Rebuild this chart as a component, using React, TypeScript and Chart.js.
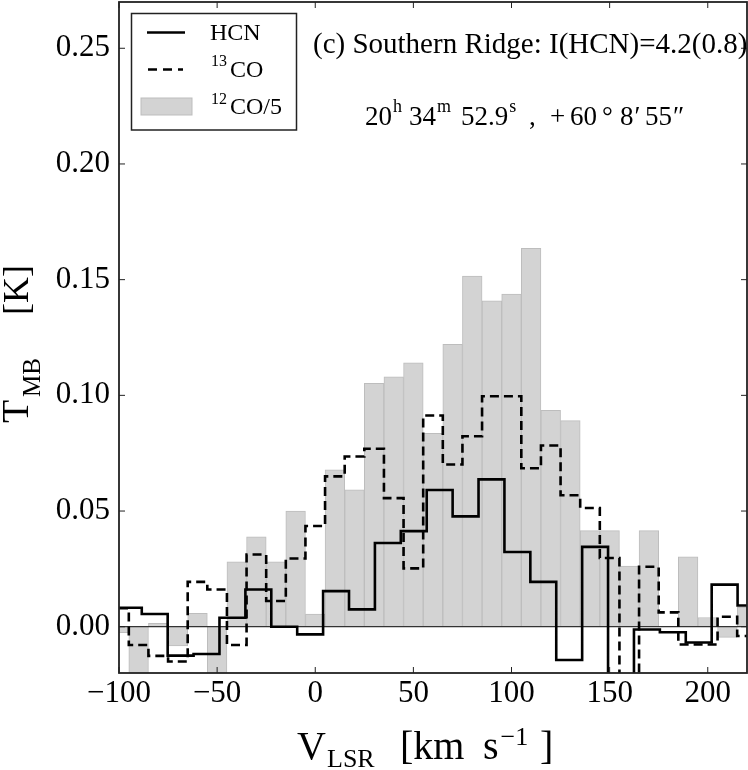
import React, { useEffect, useRef } from 'react';
import { Chart, registerables } from 'chart.js';

Chart.register(...registerables);

const SERIF = '"Liberation Serif", "Times New Roman", serif';

// 12CO/5 and 13CO share the 10 km/s channel grid
const coVel = [
  -100, -90, -80, -70, -60, -50, -40, -30, -20, -10, 0, 10, 20, 30, 40, 50, 60,
  70, 80, 90, 100, 110, 120, 130, 140, 150, 160, 170, 180, 190, 200, 210, 220,
];
const co12Temp = [
  -0.0026, -0.03, 0.0015, -0.0083, 0.0058, -0.025, 0.028, 0.0388, 0.028, 0.05,
  0.0055, 0.0678, 0.0592, 0.1052, 0.108, 0.114, 0.0836, 0.122, 0.1515, 0.1408,
  0.1438, 0.1635, 0.0935, 0.0891, 0.0415, 0.0415, 0.0262, 0.0415, 0.0, 0.0302,
  0.004, -0.0046, 0.0084,
];
const co13Temp = [
  0.008, -0.0079, -0.0126, -0.015, 0.0194, 0.0161, -0.0079, 0.0312, 0.0111,
  0.0295, 0.0435, 0.065, 0.0736, 0.0769, 0.0556, 0.0252, 0.0913, 0.0701, 0.0823,
  0.0996, 0.0996, 0.0685, 0.0783, 0.0568, 0.0513, 0.0297, -0.03, 0.0259, 0.0062,
  -0.0077, -0.0077, 0.0043, -0.004,
];

// HCN channels (~13.2 km/s)
const hcnVel = [
  -108.2, -95.0, -81.8, -68.6, -55.4, -42.2, -29.0, -15.8, -2.6, 10.6, 23.8,
  37.0, 50.2, 63.4, 76.6, 89.8, 103.0, 116.2, 129.4, 142.6, 155.8, 169.0, 182.2,
  195.4, 208.6, 221.8,
];
const hcnTemp = [
  0.0082, 0.0082, 0.0055, -0.0125, -0.0118, 0.0039, 0.0161, 0.0, -0.0033, 0.0154,
  0.0075, 0.0362, 0.0413, 0.0591, 0.0477, 0.0637, 0.0323, 0.0194, -0.0144,
  0.0345, -0.03, -0.0012, -0.0024, -0.0068, 0.0182, 0.0092,
];

const xTicks = [-100, -50, 0, 50, 100, 150, 200];
const yTicks = [0, 0.05, 0.1, 0.15, 0.2, 0.25];

// x: absolute start, or omitted to follow the previous piece (+ gap)
type Piece = { t: string; x?: number; gap?: number; size: number; dy?: number };

function drawPieces(ctx: CanvasRenderingContext2D, pieces: Piece[], baseY: number) {
  let cursor = 0;
  pieces.forEach((p) => {
    ctx.font = `${p.size}px ${SERIF}`;
    const x = p.x !== undefined ? p.x : cursor + (p.gap || 0);
    ctx.fillText(p.t, x, baseY + (p.dy || 0));
    cursor = x + ctx.measureText(p.t).width;
  });
}

const decorations = {
  id: 'decorations',
  afterDatasetDraw(chart: any, args: any) {
    // zero line sits above the bars but under the spectra
    if (args.index !== 2) return;
    const { ctx, chartArea, scales } = chart;
    const y0 = scales.y.getPixelForValue(0);
    ctx.save();
    ctx.strokeStyle = '#333';
    ctx.lineWidth = 1.3;
    ctx.beginPath();
    ctx.moveTo(chartArea.left, y0);
    ctx.lineTo(chartArea.right, y0);
    ctx.stroke();
    ctx.restore();
  },
  afterDraw(chart: any) {
    const { ctx, chartArea: a, scales } = chart;
    ctx.save();

    // inward ticks on all four sides
    ctx.strokeStyle = '#222';
    ctx.lineWidth = 1;
    const tl = 6;
    ctx.beginPath();
    xTicks.forEach((v) => {
      const px = scales.x.getPixelForValue(v);
      ctx.moveTo(px, a.bottom);
      ctx.lineTo(px, a.bottom - tl);
      ctx.moveTo(px, a.top);
      ctx.lineTo(px, a.top + tl);
    });
    yTicks.forEach((v) => {
      const py = scales.y.getPixelForValue(v);
      ctx.moveTo(a.left, py);
      ctx.lineTo(a.left + tl, py);
      ctx.moveTo(a.right, py);
      ctx.lineTo(a.right - tl, py);
    });
    ctx.stroke();

    // legend
    ctx.fillStyle = '#fff';
    ctx.fillRect(131.5, 13.5, 165, 116.5);
    ctx.strokeStyle = '#222';
    ctx.lineWidth = 1.5;
    ctx.strokeRect(131.5, 13.5, 165, 116.5);

    ctx.strokeStyle = '#000';
    ctx.lineWidth = 2.6;
    ctx.beginPath();
    ctx.moveTo(147, 32.5);
    ctx.lineTo(185, 32.5);
    ctx.stroke();
    ctx.setLineDash([9, 6]);
    ctx.beginPath();
    ctx.moveTo(148, 69.5);
    ctx.lineTo(183, 69.5);
    ctx.stroke();
    ctx.setLineDash([]);
    ctx.fillStyle = '#d3d3d3';
    ctx.fillRect(141, 98, 51, 17);
    ctx.strokeStyle = '#bdbdbd';
    ctx.lineWidth = 1;
    ctx.strokeRect(141, 98, 51, 17);

    ctx.fillStyle = '#000';
    ctx.textAlign = 'left';
    ctx.textBaseline = 'alphabetic';
    drawPieces(ctx, [{ t: 'HCN', x: 210, size: 24 }], 40);
    drawPieces(ctx, [{ t: '13', x: 211, size: 16, dy: -11 }, { t: 'CO', x: 230, size: 24 }], 77);
    drawPieces(ctx, [{ t: '12', x: 211, size: 16, dy: -10 }, { t: 'CO/5', x: 230, size: 24 }], 114);

    // annotations
    drawPieces(ctx, [{ t: '(c) Southern Ridge: I(HCN)=4.2(0.8)', x: 313, size: 29 }], 53);
    drawPieces(
      ctx,
      [
        { t: '20', x: 365, size: 27 },
        { t: 'h', gap: 1, size: 18, dy: -13 },
        { t: '34', x: 409, size: 27 },
        { t: 'm', gap: 1, size: 18, dy: -13 },
        { t: '52.9', x: 461, size: 27 },
        { t: 's', gap: 1, size: 18, dy: -13 },
        { t: ',', x: 529, size: 27 },
        { t: '+', x: 550, size: 27 },
        { t: '60', x: 570, size: 27 },
        { t: '\u00b0', x: 602, size: 27 },
        { t: '8', x: 620, size: 27 },
        { t: '\u2032', gap: 1, size: 27 },
        { t: '55', x: 645, size: 27 },
        { t: '\u2033', gap: 1, size: 27 },
      ],
      125,
    );

    // x axis title
    drawPieces(
      ctx,
      [
        { t: 'V', x: 297, size: 40 },
        { t: 'LSR', x: 327, size: 26, dy: 8 },
        { t: '[km', x: 400, size: 40 },
        { t: 's', x: 483, size: 40 },
        { t: '\u22121', gap: 2, size: 26, dy: -14 },
        { t: ']', x: 540, size: 40 },
      ],
      759,
    );

    // y axis title
    ctx.save();
    ctx.translate(28, 0);
    ctx.rotate(-Math.PI / 2);
    drawPieces(
      ctx,
      [
        { t: 'T', x: -423, size: 38 },
        { t: 'MB', x: -397, size: 25, dy: 12 },
        { t: '[K]', x: -315, size: 36 },
      ],
      0,
    );
    ctx.restore();

    // frame (drawn last so it trims the annotation at the right edge)
    ctx.strokeStyle = '#222';
    ctx.lineWidth = 1.8;
    ctx.strokeRect(a.left, a.top, a.right - a.left, a.bottom - a.top);

    ctx.restore();
  },
};

const App: React.FC = () => {
  const canvasRef = useRef<HTMLCanvasElement>(null);

  useEffect(() => {
    const ctx = canvasRef.current?.getContext('2d');
    if (!ctx) return;

    const tickFont = { family: SERIF, size: 31 };

    const chart = new Chart(ctx, {
      type: 'bar',
      data: {
        datasets: [
          {
            type: 'line',
            label: 'HCN',
            data: hcnVel.map((v, i) => ({ x: v, y: hcnTemp[i] })),
            borderColor: '#000',
            borderWidth: 2.6,
            stepped: 'middle',
            pointRadius: 0,
            fill: false,
            clip: 0,
          },
          {
            type: 'line',
            label: '13CO',
            data: coVel.map((v, i) => ({ x: v, y: co13Temp[i] })),
            borderColor: '#000',
            borderWidth: 2.6,
            borderDash: [9, 5],
            stepped: 'middle',
            pointRadius: 0,
            fill: false,
            clip: 0,
          },
          {
            type: 'bar',
            label: '12CO/5',
            data: coVel.map((v, i) => ({ x: v, y: co12Temp[i] })),
            backgroundColor: '#d3d3d3',
            borderColor: '#bdbdbd',
            borderWidth: 1,
            barPercentage: 1,
            categoryPercentage: 1,
          },
        ],
      } as any,
      options: {
        animation: false,
        responsive: true,
        maintainAspectRatio: false,
        layout: { padding: { left: 0, right: 1, top: 2, bottom: 0 } },
        plugins: {
          legend: { display: false },
          tooltip: { enabled: false },
        },
        scales: {
          x: {
            type: 'linear',
            min: -100,
            max: 220,
            offset: false,
            grid: { display: false, drawTicks: false },
            border: { display: false },
            afterBuildTicks: (s: any) => {
              s.ticks = xTicks.map((v) => ({ value: v }));
            },
            afterFit: (s: any) => {
              s.height = 97;
              s.paddingLeft = 0;
              s.paddingRight = 0;
            },
            ticks: {
              autoSkip: false,
              maxRotation: 0,
              padding: 2,
              color: '#000',
              font: tickFont,
              callback: (v: any) => (v < 0 ? '\u2212' + Math.abs(v) : String(v)),
            },
          },
          y: {
            type: 'linear',
            min: -0.02,
            max: 0.27,
            grid: { display: false, drawTicks: false },
            border: { display: false },
            afterBuildTicks: (s: any) => {
              s.ticks = yTicks.map((v) => ({ value: v }));
            },
            afterFit: (s: any) => {
              s.width = 119;
              s.paddingTop = 0;
              s.paddingBottom = 0;
            },
            ticks: {
              autoSkip: false,
              padding: 9,
              color: '#000',
              font: tickFont,
              callback: (v: any) => Number(v).toFixed(2),
            },
          },
        },
      } as any,
      plugins: [decorations],
    });

    return () => {
      chart.destroy();
    };
  }, []);

  return (
    <div style={{ position: 'absolute', left: 0, top: 0, width: 748, height: 770, background: '#fff' }}>
      <canvas ref={canvasRef} />
    </div>
  );
};

export default App;
